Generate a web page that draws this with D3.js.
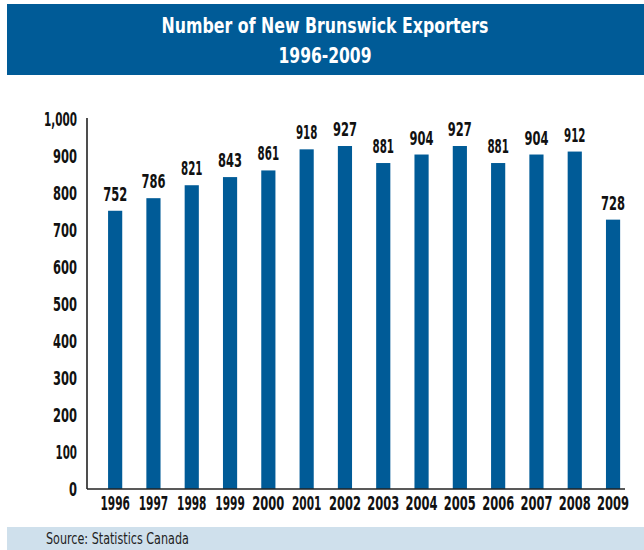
<!DOCTYPE html>
<html><head><meta charset="utf-8">
<script src="https://cdn.jsdelivr.net/npm/d3@7"></script>
<style>
body{margin:0;background:#fff;}
text{font-family:"DejaVu Sans Condensed","DejaVu Sans",sans-serif;}
</style></head>
<body>
<svg id="c" width="644" height="550"></svg>
<script>
const years = ["1996","1997","1998","1999","2000","2001","2002","2003","2004","2005","2006","2007","2008","2009"];
const exporters = [752,786,821,843,861,918,927,881,904,927,881,904,912,728];
const yTicks = [0,100,200,300,400,500,600,700,800,900,1000];
const titleLines = ["Number of New Brunswick Exporters","1996-2009"];
const source = "Source: Statistics Canada";

const svg = d3.select("#c");
const blue = "#005b97";

// approximate condensed width of numeric strings
function numWidth(s){
  let w = 0;
  for (const ch of s) w += ch === "1" ? 5.5 : ch === "," ? 3.5 : 8;
  return w;
}
// horizontally compress a text element (anchored at its own x,y) to a target width
function squeezeTo(node, target){
  const sel = d3.select(node);
  const x0 = +sel.attr("x") || 0, y0 = +sel.attr("y") || 0;
  const w = node.getComputedTextLength();
  const sx = Math.min(1, target / w);
  sel.attr("x", 0).attr("y", 0)
     .attr("transform", `translate(${x0},${y0}) scale(${sx},1)`);
}
function squeezeNums(sel){
  sel.each(function(){ squeezeTo(this, numWidth(this.textContent)); });
}

// title banner
svg.append("rect").attr("x",7).attr("y",4).attr("width",637).attr("height",71).attr("fill",blue);
const titleW = [327, 93];
svg.selectAll("text.title").data(titleLines).join("text")
  .attr("class","title")
  .attr("x",325).attr("y",(d,i)=>33+i*30)
  .attr("text-anchor","middle").attr("fill","#fff")
  .attr("font-weight","bold").attr("font-size",22)
  .text(d=>d)
  .each(function(d,i){ squeezeTo(this, titleW[i]); });

// source band
svg.append("rect").attr("x",7).attr("y",527).attr("width",637).attr("height",23).attr("fill","#cfe0ec");
svg.append("text").attr("x",46).attr("y",544).attr("font-size",16).attr("fill","#222")
  .text(source).each(function(){ squeezeTo(this, 143); });

const x = d3.scaleBand().domain(years).range([96,632.2]).paddingInner(0.63).paddingOuter(0.315);
const y = d3.scaleLinear().domain([0,1000]).range([489,119]);

// bars
svg.selectAll("rect.bar").data(years).join("rect")
  .attr("class","bar")
  .attr("x",d=>x(d)).attr("width",x.bandwidth())
  .attr("y",(d,i)=>y(exporters[i])).attr("height",(d,i)=>y(0)-y(exporters[i]))
  .attr("fill",blue);

// value labels
svg.selectAll("text.val").data(years).join("text")
  .attr("class","val")
  .attr("x",d=>x(d)+x.bandwidth()/2)
  .attr("y",(d,i)=>y(exporters[i])-10)
  .attr("text-anchor","middle").attr("font-weight","bold").attr("font-size",19).attr("fill","#111")
  .text((d,i)=>exporters[i])
  .call(squeezeNums);

// y axis
const yAxis = svg.append("g").attr("transform","translate(87,0)")
  .call(d3.axisLeft(y).tickValues(yTicks).tickSize(0).tickPadding(10).tickFormat(d3.format(",")));
yAxis.attr("font-family",null);
yAxis.select(".domain").attr("d","M0,118V489").attr("stroke","#222").attr("stroke-width",1.6);
yAxis.selectAll("text").attr("font-weight","bold").attr("font-size",19).attr("fill","#111")
  .attr("dy","0.36em").call(squeezeNums);

// x axis
const xAxis = svg.append("g").attr("transform","translate(0,489)")
  .call(d3.axisBottom(x).tickSize(0).tickPadding(0));
xAxis.attr("font-family",null);
xAxis.select(".domain").attr("d","M87,0H625").attr("stroke","#222").attr("stroke-width",1.6);
xAxis.selectAll("text").attr("font-weight","bold").attr("font-size",19).attr("fill","#111")
  .attr("y",21).attr("dy",0).call(squeezeNums);
</script>
</body></html>
